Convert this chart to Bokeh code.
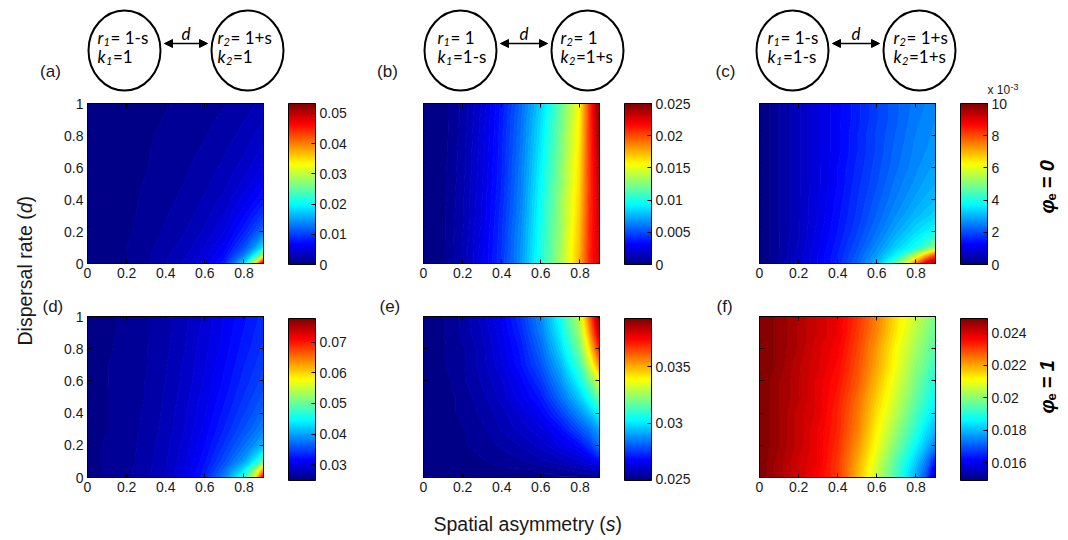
import numpy as np
from bokeh.plotting import figure
from bokeh.layouts import row, column
from bokeh.models import (LinearColorMapper, ColorBar, FixedTicker, CustomJSTickFormatter,
                          LinearAxis, Range1d, Arrow, NormalHead, Title)
from bokeh.core.properties import value
from bokeh.embed import file_html
from bokeh.resources import INLINE

# ---------------- data ----------------
s_limits = [0.0, 0.9]          # spatial asymmetry s
d_limits = [0.0, 1.0]          # dispersal rate d
s_ticks = [0, 0.2, 0.4, 0.6, 0.8]
d_ticks = [0, 0.2, 0.4, 0.6, 0.8, 1.0]

s_nodes = [0.0, 0.1, 0.2, 0.3, 0.4, 0.5, 0.6, 0.7, 0.8, 0.85, 0.9]
d_nodes_top_down = [1.0, 0.9, 0.8, 0.7, 0.6, 0.5, 0.4, 0.3, 0.2, 0.1, 0.05, 0.0]

# values in units of 1e-3; one row per d node (top row d = 1, bottom row d = 0)
vals_a = [
    [0.1, 0.15, 0.3, 0.5, 0.75, 1.0, 1.3, 1.6, 2.1, 2.4, 2.7],
    [0.1, 0.2, 0.35, 0.6, 0.9, 1.15, 1.45, 1.85, 2.45, 2.8, 3.3],
    [0.1, 0.2, 0.4, 0.7, 1.0, 1.3, 1.6, 2.1, 2.8, 3.3, 3.9],
    [0.1, 0.2, 0.45, 0.75, 1.1, 1.4, 1.8, 2.4, 3.2, 3.8, 4.5],
    [0.15, 0.25, 0.5, 0.8, 1.2, 1.55, 2.0, 2.7, 3.7, 4.4, 5.2],
    [0.15, 0.25, 0.5, 0.9, 1.3, 1.7, 2.3, 3.1, 4.4, 5.2, 6.2],
    [0.15, 0.3, 0.55, 1.0, 1.4, 1.9, 2.6, 3.6, 5.3, 6.3, 7.6],
    [0.15, 0.3, 0.6, 1.1, 1.6, 2.1, 3.0, 4.2, 6.5, 8.0, 9.5],
    [0.2, 0.35, 0.7, 1.2, 1.8, 2.5, 3.5, 5.0, 8.0, 10.0, 12.5],
    [0.2, 0.4, 0.8, 1.4, 2.1, 2.9, 4.2, 6.2, 10.5, 14.0, 19.0],
    [0.2, 0.4, 0.8, 1.45, 2.3, 3.2, 4.6, 7.0, 13.0, 19.0, 29.0],
    [0.2, 0.4, 0.8, 1.5, 2.5, 3.6, 5.2, 8.0, 18.0, 30.0, 50.0],
]
vals_b = [
    [0.0, 0.2, 0.9, 2.0, 3.6, 5.6, 8.2, 11.5, 15.6, 20.5, 24.9],
    [0.0, 0.2, 0.9, 2.1, 3.7, 5.8, 8.5, 11.8, 15.8, 20.5, 24.6],
    [0.0, 0.2, 0.95, 2.15, 3.75, 5.9, 8.7, 12.0, 16.0, 20.5, 24.3],
    [0.0, 0.2, 1.0, 2.2, 3.8, 6.0, 8.9, 12.2, 16.2, 20.5, 24.0],
    [0.0, 0.25, 1.0, 2.25, 3.85, 6.1, 9.1, 12.4, 16.4, 20.5, 23.7],
    [0.0, 0.25, 1.05, 2.3, 3.9, 6.2, 9.3, 12.6, 16.5, 20.5, 23.5],
    [0.0, 0.25, 1.1, 2.35, 4.0, 6.3, 9.5, 12.8, 16.7, 20.6, 23.3],
    [0.0, 0.3, 1.1, 2.4, 4.1, 6.4, 9.6, 12.9, 16.9, 20.7, 23.2],
    [0.0, 0.3, 1.15, 2.5, 4.2, 6.6, 9.8, 13.0, 17.1, 20.8, 23.1],
    [0.0, 0.3, 1.2, 2.55, 4.25, 6.7, 9.9, 13.1, 17.3, 20.9, 23.0],
    [0.0, 0.3, 1.2, 2.6, 4.3, 6.75, 10.0, 13.2, 17.4, 21.0, 23.0],
    [0.0, 0.3, 1.2, 2.6, 4.3, 6.8, 10.0, 13.2, 17.5, 21.0, 23.0],
]
vals_c = [
    [0.0, 0.3, 0.6, 0.9, 1.2, 1.5, 1.85, 2.15, 2.4, 2.5, 2.6],
    [0.0, 0.3, 0.6, 0.9, 1.2, 1.5, 1.85, 2.15, 2.45, 2.55, 2.65],
    [0.0, 0.3, 0.6, 0.9, 1.2, 1.55, 1.9, 2.2, 2.5, 2.6, 2.7],
    [0.0, 0.3, 0.6, 0.9, 1.2, 1.55, 1.9, 2.25, 2.55, 2.65, 2.75],
    [0.0, 0.3, 0.6, 0.9, 1.25, 1.6, 1.95, 2.3, 2.6, 2.75, 2.85],
    [0.0, 0.3, 0.6, 0.9, 1.25, 1.65, 2.0, 2.4, 2.7, 2.85, 2.95],
    [0.0, 0.3, 0.6, 0.95, 1.3, 1.7, 2.1, 2.5, 2.85, 3.0, 3.1],
    [0.0, 0.3, 0.6, 0.95, 1.35, 1.75, 2.2, 2.65, 3.05, 3.2, 3.35],
    [0.0, 0.3, 0.6, 1.0, 1.4, 1.85, 2.35, 2.9, 3.4, 3.6, 3.8],
    [0.0, 0.3, 0.65, 1.05, 1.5, 2.0, 2.6, 3.3, 3.9, 4.4, 5.1],
    [0.0, 0.3, 0.7, 1.1, 1.55, 2.1, 2.8, 3.7, 5.5, 6.8, 8.0],
    [0.0, 0.3, 0.7, 1.1, 1.6, 2.2, 3.0, 4.6, 7.5, 9.0, 9.9],
]
vals_d = [
    [25.3, 25.5, 25.8, 26.3, 27.0, 27.9, 29.1, 30.6, 32.0, 32.7, 33.4],
    [25.3, 25.5, 25.8, 26.3, 27.0, 28.0, 29.3, 30.8, 32.3, 33.0, 33.7],
    [25.3, 25.5, 25.9, 26.4, 27.1, 28.1, 29.5, 31.0, 32.6, 33.3, 34.1],
    [25.3, 25.6, 25.9, 26.4, 27.2, 28.3, 29.7, 31.3, 33.0, 33.7, 34.6],
    [25.3, 25.6, 25.9, 26.5, 27.3, 28.4, 29.9, 31.6, 33.4, 34.2, 35.1],
    [25.4, 25.6, 26.0, 26.5, 27.4, 28.6, 30.2, 32.0, 33.9, 34.8, 35.8],
    [25.4, 25.6, 26.0, 26.6, 27.5, 28.8, 30.5, 32.5, 34.6, 35.6, 36.8],
    [25.4, 25.6, 26.0, 26.7, 27.6, 29.0, 30.9, 33.1, 35.5, 36.7, 38.3],
    [25.4, 25.7, 26.1, 26.8, 27.8, 29.3, 31.4, 34.0, 37.0, 38.7, 41.0],
    [25.4, 25.7, 26.1, 26.9, 28.0, 29.6, 32.0, 35.3, 39.5, 43.5, 49.0],
    [25.4, 25.7, 26.2, 27.0, 28.1, 29.8, 32.5, 36.5, 43.0, 50.0, 62.0],
    [25.4, 25.7, 26.2, 27.0, 28.2, 30.0, 33.0, 38.0, 46.5, 55.0, 72.0],
]
vals_e = [
    [25.0, 25.1, 25.4, 25.9, 26.5, 27.4, 28.6, 30.5, 33.0, 36.0, 39.2],
    [25.0, 25.1, 25.4, 25.8, 26.4, 27.2, 28.4, 30.1, 32.5, 35.2, 38.3],
    [25.0, 25.1, 25.3, 25.7, 26.3, 27.0, 28.1, 29.7, 31.9, 34.2, 37.0],
    [25.0, 25.1, 25.3, 25.7, 26.2, 26.9, 27.8, 29.2, 31.2, 33.1, 35.5],
    [25.0, 25.0, 25.3, 25.6, 26.0, 26.6, 27.4, 28.7, 30.4, 31.8, 33.6],
    [25.0, 25.0, 25.2, 25.5, 25.9, 26.4, 27.0, 28.2, 29.6, 30.6, 31.8],
    [25.0, 25.0, 25.2, 25.4, 25.7, 26.1, 26.6, 27.5, 28.7, 29.4, 30.3],
    [25.0, 25.0, 25.1, 25.3, 25.6, 25.9, 26.2, 26.8, 27.8, 28.3, 29.0],
    [25.0, 25.0, 25.1, 25.2, 25.4, 25.6, 25.9, 26.3, 26.8, 27.4, 28.3],
    [25.0, 25.0, 25.0, 25.1, 25.2, 25.3, 25.5, 25.7, 26.0, 26.3, 26.8],
    [25.0, 25.0, 25.0, 25.0, 25.1, 25.1, 25.2, 25.3, 25.5, 25.6, 25.8],
    [25.0, 25.0, 25.0, 25.0, 25.0, 25.0, 25.0, 25.1, 25.1, 25.2, 25.3],
]
vals_f = [
    [24.9, 24.7, 24.4, 24.1, 23.8, 23.2, 22.4, 21.4, 20.6, 20.2, 19.8],
    [24.9, 24.7, 24.4, 24.1, 23.8, 23.1, 22.3, 21.3, 20.4, 20.0, 19.6],
    [24.9, 24.7, 24.4, 24.0, 23.7, 23.0, 22.1, 21.1, 20.2, 19.8, 19.4],
    [24.9, 24.7, 24.3, 24.0, 23.6, 22.9, 22.0, 21.0, 20.0, 19.6, 19.1],
    [24.9, 24.6, 24.3, 23.9, 23.5, 22.8, 21.8, 20.8, 19.8, 19.3, 18.9],
    [24.9, 24.6, 24.3, 23.9, 23.4, 22.6, 21.6, 20.6, 19.6, 19.1, 18.6],
    [24.9, 24.6, 24.2, 23.9, 23.3, 22.5, 21.4, 20.4, 19.3, 18.8, 18.3],
    [24.9, 24.6, 24.2, 23.8, 23.3, 22.4, 21.2, 20.1, 19.0, 18.4, 17.9],
    [24.9, 24.6, 24.2, 23.8, 23.2, 22.2, 21.0, 19.8, 18.6, 18.0, 17.3],
    [24.9, 24.5, 24.1, 23.8, 23.1, 22.0, 20.7, 19.4, 18.1, 17.3, 16.3],
    [24.9, 24.5, 24.1, 23.7, 23.1, 21.9, 20.6, 19.3, 17.9, 17.1, 15.7],
    [24.9, 24.5, 24.1, 23.7, 23.1, 21.9, 20.5, 19.2, 17.8, 16.9, 15.0],
]
cbar_low = [0.0, 0.0, 0.0, 24.8, 24.9, 14.9]
cbar_high = [53.3, 25.0, 10.0, 77.8, 39.3, 24.9]
cbar_ticks = [[0, 10, 20, 30, 40, 50], [0, 5, 10, 15, 20, 25], [0, 2, 4, 6, 8, 10],
              [30, 40, 50, 60, 70], [25, 30, 35], [16, 18, 20, 22, 24]]
cbar_in_thousandths = [False, False, True, False, False, False]

panel_labels_top = ["(a)", "(b)", "(c)"]
panel_labels_bottom = ["(d)", "(e)", "(f)"]
diag_left_r = ["= 1-s", "= 1", "= 1-s"]
diag_left_k = ["=1", "=1-s", "=1-s"]
diag_right_r = ["= 1+s", "= 1", "= 1+s"]
diag_right_k = ["=1", "=1+s", "=1+s"]
row_values = ["0", "1"]

# ---------------- style ----------------
def jet_colors(t):
    t = np.asarray(t, dtype=float)
    r = np.clip(1.5 - np.abs(4 * t - 3), 0, 1)
    g = np.clip(1.5 - np.abs(4 * t - 2), 0, 1)
    b = np.clip(1.5 - np.abs(4 * t - 1), 0, 1)
    return ["#%02x%02x%02x" % (int(round(a * 255)), int(round(bb * 255)), int(round(c * 255)))
            for a, bb, c in zip(r, g, b)]

JET = jet_colors(np.linspace(0, 1, 256))
N_BANDS = 64
BAND_COLORS = jet_colors((np.arange(N_BANDS) + 0.5) / N_BANDS)
LINE_COLORS = BAND_COLORS + [BAND_COLORS[-1]]     # each level line takes the colour of the band above it
SANS = value("Liberation Sans")
TICK_FONT = "Liberation Sans"
FRAME_W = 176
AX_FMT = "return String(Math.round(tick * 10) / 10);"
CB_FMT = "return String(Math.round(tick * 1000) / 1e6);"
CB_FMT_K = "return String(Math.round(tick));"


def blank_fig(w, h, xr, yr):
    p = figure(width=w, height=h, x_range=Range1d(*xr), y_range=Range1d(*yr),
               x_axis_location=None, y_axis_location=None, min_border=0,
               toolbar_location=None, output_backend="svg")
    p.xgrid.visible = False
    p.ygrid.visible = False
    p.outline_line_color = None
    return p


def heat_panel(i, vals, width, b_left, height, b_top, b_bottom, show_y, cb_h, cb_y,
               label=None, label_offset=0):
    p = figure(width=width, height=height,
               x_range=Range1d(*s_limits), y_range=Range1d(*d_limits),
               min_border_left=b_left, min_border_right=width - b_left - FRAME_W,
               min_border_top=b_top, min_border_bottom=b_bottom,
               x_axis_location=None, y_axis_location=None,
               toolbar_location=None, output_backend="svg")
    p.xgrid.visible = False
    p.ygrid.visible = False
    p.outline_line_color = "black"
    lo, hi = cbar_low[i], cbar_high[i]
    levels = np.linspace(lo, hi, N_BANDS + 1)
    levels[0] -= 1e-6
    levels[-1] += 1e-6
    z = np.array(vals, dtype=float)[::-1]
    p.contour(x=np.array(s_nodes), y=np.array(d_nodes_top_down[::-1]), z=z, levels=levels,
              fill_color=BAND_COLORS, line_color=LINE_COLORS, line_width=1.2)
    for side, tks, labelled in [("below", s_ticks, True), ("left", d_ticks, show_y),
                                ("above", s_ticks, False), ("right", d_ticks, False)]:
        ax = LinearAxis(ticker=FixedTicker(ticks=tks))
        ax.major_tick_in = 4
        ax.major_tick_out = 0
        ax.minor_tick_line_color = None
        ax.axis_line_color = "black"
        ax.major_tick_line_color = "black"
        if labelled:
            ax.formatter = CustomJSTickFormatter(code=AX_FMT)
            ax.major_label_text_font = TICK_FONT
            ax.major_label_text_font_size = "14px"
            ax.major_label_text_color = "#1a1a1a"
            ax.major_label_standoff = 4
        else:
            ax.formatter = CustomJSTickFormatter(code="return '';")
            ax.major_label_text_font_size = "0px"
            ax.major_label_standoff = 0
        p.add_layout(ax, side)
    if label is not None:
        p.add_layout(Title(text=label, align="left", offset=label_offset, standoff=1,
                           text_font=TICK_FONT, text_font_size="17px", text_font_style="normal",
                           text_color="#1a1a1a"), "above")
    mapper = LinearColorMapper(palette=JET, low=lo, high=hi)
    cb = ColorBar(color_mapper=mapper, ticker=FixedTicker(ticks=cbar_ticks[i]),
                  formatter=CustomJSTickFormatter(code=CB_FMT_K if cbar_in_thousandths[i] else CB_FMT),
                  width=27, height=cb_h, location=(FRAME_W + 25, cb_y), padding=0, margin=0,
                  major_label_text_font=TICK_FONT, major_label_text_font_size="14px",
                  major_label_text_color="#1a1a1a", label_standoff=4,
                  major_tick_in=4, major_tick_out=0, major_tick_line_color="black",
                  minor_tick_line_color=None, bar_line_color="black", bar_line_width=1,
                  border_line_color=None, background_fill_color=None)
    p.add_layout(cb, "center")
    return p


all_vals = [vals_a, vals_b, vals_c, vals_d, vals_e, vals_f]
row1 = [heat_panel(j, all_vals[j], [346, 336, 310][j], [49, 39, 39][j], 195, 8, 27, j == 0, 161, -1)
        for j in range(3)]
row2 = [heat_panel(3 + j, all_vals[3 + j], [338, 336, 318][j], [49, 47, 47][j], 210, 26, 23, j == 0,
                   162, -3, label=panel_labels_bottom[j], label_offset=[-45, -44, -43][j])
        for j in range(3)]

# ---------------- header with the patch diagrams ----------------
hdr = blank_fig(1060, 95, (0, 1060), (95, 0))
circ_left = [124, 460, 792]
circ_right = [247, 587, 919]
txt_left_off = [-27, -23, -25]
txt_right_off = [-30, -27, -26]
hdr.ellipse(x=circ_left + circ_right, y=[50] * 6, width=72, height=80,
            fill_color=None, line_color="black", line_width=2)
DIA = value("Lato")
for j in range(3):
    hdr.add_layout(Arrow(x_start=circ_left[j] + 40, y_start=43, x_end=circ_right[j] - 40, y_end=43,
                         line_width=1.5, line_color="black",
                         start=NormalHead(size=8, fill_color="black", line_color="black"),
                         end=NormalHead(size=8, fill_color="black", line_color="black")))
    hdr.text(x=[(circ_left[j] + circ_right[j]) / 2], y=[33], text=["d"], text_font=DIA,
             text_font_style="italic", text_font_size="17px", text_align="center",
             text_baseline="middle", text_color="black")
    for cx, off, rtxt, ktxt, idx in [(circ_left[j], txt_left_off[j], diag_left_r[j], diag_left_k[j], "1"),
                                     (circ_right[j], txt_right_off[j], diag_right_r[j], diag_right_k[j], "2")]:
        x0 = cx + off
        for yy, letter, sub_dx, eq_dx, rest in [(37, "r", 6, 13, rtxt), (56, "k", 8.5, 15.5, ktxt)]:
            hdr.text(x=[x0], y=[yy], text=[letter], text_font=DIA, text_font_style="italic",
                     text_font_size="17px", text_baseline="middle", text_color="black")
            hdr.text(x=[x0 + sub_dx], y=[yy + 4], text=[idx], text_font=DIA, text_font_style="italic",
                     text_font_size="11px", text_baseline="middle", text_color="black")
            hdr.text(x=[x0 + eq_dx], y=[yy], text=[rest], text_font=DIA,
                     text_font_size="17px", text_baseline="middle", text_color="black")
hdr.text(x=[50, 387, 725], y=[71, 71, 71], text=panel_labels_top, text_font=SANS,
         text_font_size="17px", text_align="center", text_baseline="middle", text_color="#1a1a1a")
hdr.text(x=[987], y=[89], text=["x 10"], text_font=SANS, text_font_size="12px",
         text_baseline="middle", text_color="#1a1a1a")
hdr.text(x=[1010], y=[86], text=["-3"], text_font=SANS, text_font_size="9px",
         text_baseline="middle", text_color="#1a1a1a")

# ---------------- footer (x label) ----------------
footer = blank_fig(992, 36, (38, 1030), (536, 500))
for xx, txt, style in [(433, "Spatial asymmetry (", "normal"), (605.3, "s", "italic"), (615.0, ")", "normal")]:
    footer.text(x=[xx], y=[523], text=[txt], text_font=SANS, text_font_style=style,
                text_font_size="19.5px", text_baseline="middle", text_color="#1a1a1a")

# ---------------- left (y label) ----------------
leftf = blank_fig(38, 441, (0, 38), (536, 95))
for yy, txt, style in [(345, "Dispersal rate (", "normal"), (212.8, "d", "italic"), (202.0, ")", "normal")]:
    leftf.text(x=[24], y=[yy], text=[txt], text_font=SANS, text_font_style=style, angle=np.pi / 2,
               text_font_size="19.5px", text_baseline="middle", text_color="#1a1a1a")

# ---------------- right (phi_e labels) ----------------
rightf = blank_fig(30, 441, (1030, 1060), (536, 95))
for yb, v in zip([213, 413], row_values):
    rightf.text(x=[1046], y=[yb], text=["\u03c6"], text_font=SANS, text_font_style="bold italic",
                angle=np.pi / 2, text_font_size="20px", text_baseline="middle", text_color="black")
    rightf.text(x=[1051], y=[yb - 13], text=["e"], text_font=SANS, text_font_style="bold",
                angle=np.pi / 2, text_font_size="13px", text_baseline="middle", text_color="black")
    rightf.text(x=[1046], y=[yb - 25], text=["= " + v], text_font=SANS, text_font_style="bold italic",
                angle=np.pi / 2, text_font_size="20px", text_baseline="middle", text_color="black")

layout = column(hdr, row(leftf, column(row(*row1), row(*row2), footer), rightf))
open("out.html", "w").write(file_html(layout, INLINE))
